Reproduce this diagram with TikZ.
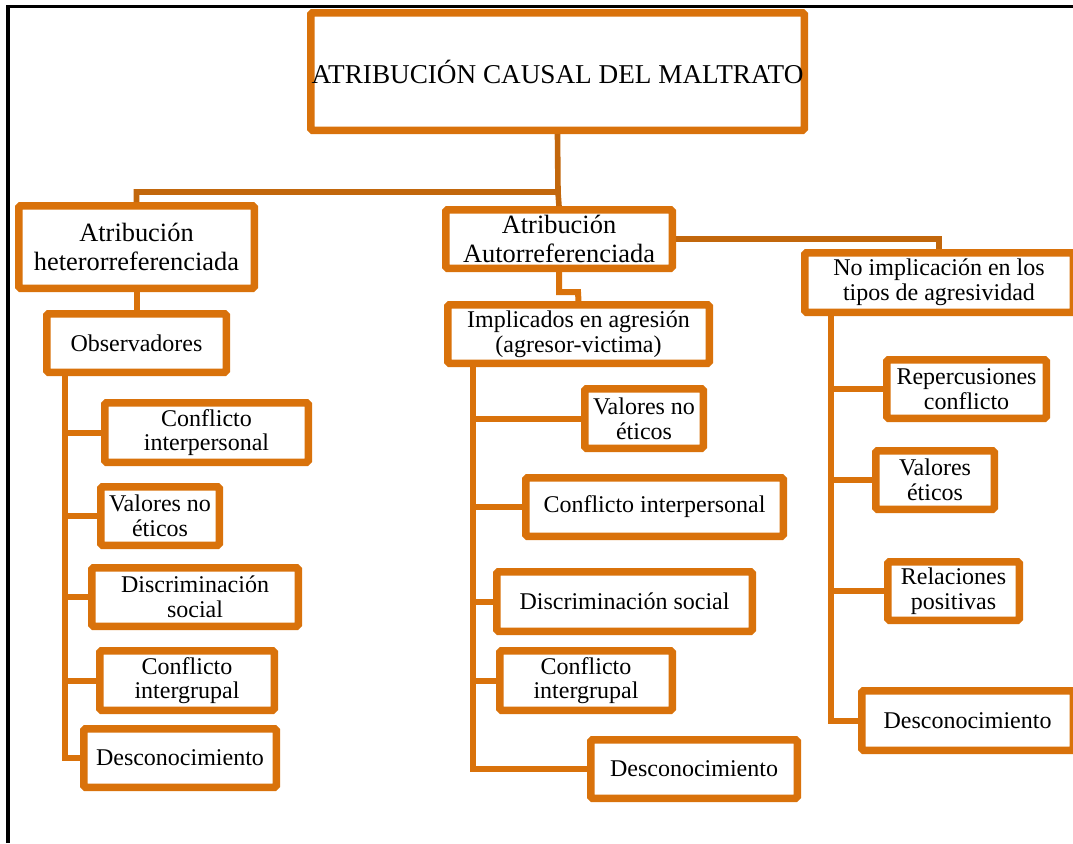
\documentclass[tikz,border=0pt]{standalone}
\usepackage{fontspec}
\setmainfont{Liberation Serif}
\usetikzlibrary{positioning}
\definecolor{boxorange}{RGB}{217,114,11}
\definecolor{lineorange}{RGB}{194,103,12}

\begin{document}
\begin{tikzpicture}[x=0.5pt,y=-0.5pt,
    box/.style={draw=boxorange, line width=3.75pt, fill=white, align=center,
      inner sep=0pt, rounded corners=0.8pt, font=\fontsize{12}{12.3}\selectfont},
    bigbox/.style={box, font=\fontsize{13.2}{14.5}\selectfont},
    link/.style={draw=boxorange, line width=3pt},
    toplink/.style={draw=lineorange, line width=2.8pt}]
    \useasboundingbox (0,0) rectangle (1073,843);
    \draw[line width=1.8pt] (8,843) -- (8,6.5) -- (1073,6.5);

    \node[box, minimum width=246.75pt, minimum height=58.75pt, font=\fontsize{13.6}{15}\selectfont] (title) at (557.5,71.5) {ATRIBUCIÓN CAUSAL DEL MALTRATO};
    \node[bigbox, minimum width=117.75pt, minimum height=41.25pt] (hetero) at (136.5,247) {Atribución\\heterorreferenciada};
    \node[bigbox, minimum width=113.25pt, minimum height=29.25pt] (autoref) at (559,239) {Atribución\\Autorreferenciada};
    \node[box, minimum width=134.25pt, minimum height=29.75pt] (noimpl) at (939,282.5) {No implicación en los\\tipos de agresividad};
    \node[box, minimum width=89.75pt, minimum height=29.25pt] (obs) at (136.5,343) {Observadores};
    \node[box, minimum width=130.75pt, minimum height=29.25pt] (impl) at (578.5,334) {Implicados en agresión\\(agresor-victima)};

    \node[box, minimum width=101.75pt, minimum height=29.75pt] (obsconfinter) at (206.5,432.5) {Conflicto\\interpersonal};
    \node[box, minimum width=59.25pt, minimum height=29.25pt] (obsvalores) at (160,516) {Valores no\\éticos};
    \node[box, minimum width=103.25pt, minimum height=29.25pt] (obsdiscrim) at (195,597) {Discriminación\\social};
    \node[box, minimum width=87.25pt, minimum height=29.75pt] (obsconfgrupo) at (187,680.5) {Conflicto\\intergrupal};
    \node[box, minimum width=96.25pt, minimum height=29.25pt] (obsdescon) at (180,758) {Desconocimiento};

    \node[box, minimum width=59.25pt, minimum height=29.75pt] (impvalores) at (644,418.5) {Valores no\\éticos};
    \node[box, minimum width=128.75pt, minimum height=29.25pt] (impconfinter) at (654.5,507) {Conflicto interpersonal};
    \node[box, minimum width=127.75pt, minimum height=29.75pt] (impdiscrim) at (624.5,601.5) {Discriminación social};
    \node[box, minimum width=86.25pt, minimum height=29.75pt] (impconfgrupo) at (586,680.5) {Conflicto\\intergrupal};
    \node[box, minimum width=103.25pt, minimum height=29.25pt] (impdescon) at (694,769) {Desconocimiento};

    \node[box, minimum width=79.75pt, minimum height=29.25pt] (noreper) at (966.5,389) {Repercusiones\\conflicto};
    \node[box, minimum width=59.25pt, minimum height=29.25pt] (novalores) at (935,480) {Valores\\éticos};
    \node[box, minimum width=65.75pt, minimum height=29.25pt] (norelac) at (953.5,591) {Relaciones\\positivas};
    \node[box, minimum width=105.75pt, minimum height=29.75pt] (nodescon) at (967.5,720.5) {Desconocimiento};

    \coordinate (split) at (558,192);
    \coordinate (jog) at (578,292);
    \coordinate (obstrunk) at (65,374);
    \coordinate (imptrunk) at (473,365);
    \coordinate (notrunk) at (831,314);

    \draw[toplink] (title.south) -- (split) -| (hetero.north);
    \draw[toplink] (split) -- (autoref.north);
    \draw[toplink] (autoref.east) -| (noimpl.north);
    \draw[link] (autoref.south) |- (jog) -- (impl.north);
    \draw[link] (hetero.south) -- (obs.north);

    \draw[link] (obstrunk) |- (obsconfinter.west);
    \draw[link] (obstrunk) |- (obsvalores.west);
    \draw[link] (obstrunk) |- (obsdiscrim.west);
    \draw[link] (obstrunk) |- (obsconfgrupo.west);
    \draw[link] (obstrunk) |- (obsdescon.west);

    \draw[link] (imptrunk) |- (impvalores.west);
    \draw[link] (imptrunk) |- (impconfinter.west);
    \draw[link] (imptrunk) |- (impdiscrim.west);
    \draw[link] (imptrunk) |- (impconfgrupo.west);
    \draw[link] (imptrunk) |- (impdescon.west);

    \draw[link] (notrunk) |- (noreper.west);
    \draw[link] (notrunk) |- (novalores.west);
    \draw[link] (notrunk) |- (norelac.west);
    \draw[link] (notrunk) |- (nodescon.west);
\end{tikzpicture}
\end{document}
